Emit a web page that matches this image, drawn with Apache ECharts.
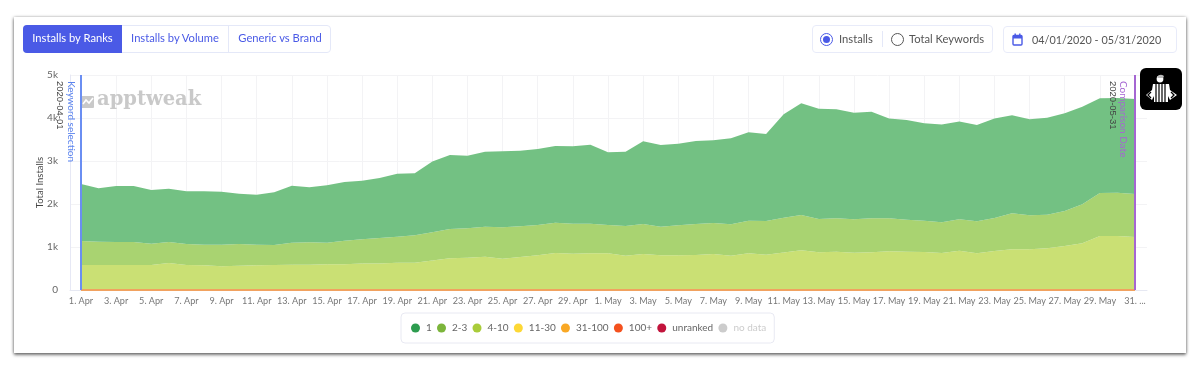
<!DOCTYPE html>
<html><head><meta charset="utf-8">
<script src="https://cdn.jsdelivr.net/npm/echarts@6/dist/echarts.min.js"></script>
<style>
html,body{margin:0;padding:0;background:#fff;width:1200px;height:373px;overflow:hidden;font-family:Lato,"Open Sans",sans-serif}
#wrap{position:relative;width:1200px;height:373px;filter:blur(.35px)}
#card{position:absolute;left:14px;top:17px;width:1172px;height:336px;background:#fff;box-shadow:0 2px 3px rgba(0,0,0,.5),1px 0 3px rgba(0,0,0,.18),-1px 0 3px rgba(0,0,0,.18)}
#chart{position:absolute;left:0;top:0;width:1200px;height:373px}
.ui{position:absolute;box-sizing:border-box;font-size:11.2px;line-height:26px;white-space:nowrap}
.tabs{left:23px;top:25px;width:308px;height:28px;border:1px solid #e4e8f8;border-radius:4px;color:#4a5ae6}
.tabs span{position:absolute;top:-1px;text-align:center;height:28px}
.tabs .on{left:-1px;width:99px;background:#4a5ae6;color:#fff;border-radius:4px 0 0 4px}
.sep{position:absolute;width:1px;background:#e4e8f8}
.box{border:1px solid #e8ebf9;border-radius:4px;color:#555}
.radio{position:absolute;width:11px;height:11px;border-radius:50%;border:1px solid #555;box-sizing:content-box}
#logo{position:absolute;left:1140px;top:68px;width:42px;height:42px;border-radius:6px;background:#000}
</style></head><body>
<div id="wrap">
<div id="card"></div>
<div id="chart"></div>
<div class="ui tabs"><span class="on">Installs by Ranks</span><span style="left:98px;width:106px">Installs by Volume</span><i class="sep" style="left:204px;top:0;height:26px"></i><span style="left:205px;width:102px">Generic vs Brand</span></div>
<div class="ui box" style="left:812px;top:25px;width:181px;height:28px">
  <i class="radio" style="left:7px;top:7px;border-color:#4a5ae6"></i><i style="position:absolute;left:10px;top:10px;width:7px;height:7px;border-radius:50%;background:#4a5ae6"></i>
  <span style="position:absolute;left:26px;top:0">Installs</span><i class="sep" style="left:69px;top:5px;height:16px"></i>
  <i class="radio" style="left:78px;top:7px"></i><span style="position:absolute;left:96px;top:0">Total Keywords</span></div>
<div class="ui box" style="left:1003px;top:26px;width:174px;height:27px;font-size:10.8px;line-height:25px">
  <svg style="position:absolute;left:8px;top:6px" width="11" height="13" viewBox="0 0 11 13"><rect x="1" y="2.5" width="9" height="9.5" rx="1" fill="none" stroke="#4a5ae6" stroke-width="1.4"/><rect x="1" y="2.5" width="9" height="3" fill="#4a5ae6"/><rect x="2.5" y="0.5" width="1.4" height="3" fill="#4a5ae6"/><rect x="7.1" y="0.5" width="1.4" height="3" fill="#4a5ae6"/></svg>
  <span style="position:absolute;left:28px;top:0">04/01/2020 - 05/31/2020</span></div>
<div id="logo"><svg width="42" height="42" viewBox="0 0 42 42">
  <circle cx="20" cy="11" r="3.4" fill="#fff"/><path d="M17 9 Q20 5 24 8 L23 10 L18 10Z" fill="#bbb"/>
  <path d="M13 16 L29 16 L30 22 L37 27 L30 32 L28 28 L28 34 L14 34 L14 28 L12 32 L6 27 L12 22Z" fill="#fff"/>
  <path d="M16 16V34M19 16V34M22 16V34M25 16V34" stroke="#000" stroke-width="1.2"/>
  <path d="M11 24 L8 27 L11 30M31 24 L34 27 L31 30" stroke="#000" stroke-width="1.3" fill="none"/></svg></div>
</div>
<script>
const categories = ["1. Apr","2. Apr","3. Apr","4. Apr","5. Apr","6. Apr","7. Apr","8. Apr","9. Apr","10. Apr","11. Apr","12. Apr","13. Apr","14. Apr","15. Apr","16. Apr","17. Apr","18. Apr","19. Apr","20. Apr","21. Apr","22. Apr","23. Apr","24. Apr","25. Apr","26. Apr","27. Apr","28. Apr","29. Apr","30. Apr","1. May","2. May","3. May","4. May","5. May","6. May","7. May","8. May","9. May","10. May","11. May","12. May","13. May","14. May","15. May","16. May","17. May","18. May","19. May","20. May","21. May","22. May","23. May","24. May","25. May","26. May","27. May","28. May","29. May","30. May","31. ..."];
const rank1 = [1325,1241,1303,1303,1248,1241,1225,1241,1233,1171,1164,1224,1326,1279,1333,1364,1365,1395,1465,1443,1641,1721,1691,1745,1767,1760,1768,1784,1799,1837,1690,1729,1923,1900,1900,1931,1923,2001,2054,2023,2408,2597,2567,2535,2482,2481,2319,2318,2263,2272,2273,2241,2311,2279,2232,2256,2271,2271,2202,2202,2210];
const rank2to3 = [559,543,535,535,497,488,489,480,504,504,480,466,512,520,505,552,559,591,606,636,660,682,682,698,729,713,705,706,698,690,659,690,700,666,697,720,720,728,760,783,805,822,775,775,774,791,768,744,729,714,728,744,768,837,791,783,815,907,1000,1008,1000];
const rank4to10 = [581,581,581,581,581,628,581,574,550,566,574,581,589,589,596,596,619,619,635,635,685,737,752,775,729,768,807,860,845,853,853,799,835,807,807,815,838,799,853,822,873,923,876,892,869,876,899,892,884,860,915,853,907,946,946,969,1023,1086,1256,1256,1233];
const rankOther = [0,0,0,0,0,0,0,0,0,0,0,0,0,0,0,0,0,0,0,0,0,0,0,0,0,0,0,0,0,0,0,0,0,0,0,0,0,0,0,0,0,0,0,0,0,0,0,0,0,0,0,0,0,0,0,0,0,0,0,0,0];
const legendNames = ["1","2-3","4-10","11-30","31-100","100+","unranked","no data"];
const legendColors = ["#2d9c4f","#7cb53b","#a9cc3a","#fdd835","#f9a825","#f4511e","#c2143c","#cccccc"];
const areaColors = ["#6dbe7e","#a5d16b","#c8df6e","#fdd835","#f9a825","#f4511e","#c2143c","#cccccc"];
const seriesValues = [rank1,rank2to3,rank4to10,rankOther,rankOther,rankOther,rankOther,rankOther];
const yTicks = {min:0,max:5000,interval:1000};
const markers = [{cat:"1. Apr",color:"#6a8ef2"},{cat:"31. ...",color:"#a566d2"}];

const chart = echarts.init(document.getElementById('chart'));
const font = 'Lato';
const series = [];
for (let i = legendNames.length-1; i >= 0; i--) {
  const s = {
    name: legendNames[i], type:'line', stack:'ranks', data: seriesValues[i],
    xAxisIndex:0, yAxisIndex:0, symbol:'none', smooth:false,
    itemStyle:{color:legendColors[i]},
    lineStyle:{width:0},
    areaStyle:{color:areaColors[i],opacity:.96}
  };
  if (legendNames[i]==="31-100") s.lineStyle={width:2,color:'#f1a260',opacity:1};
  if (i===0) {
    s.markLine = {silent:true,symbol:'none',label:{show:false},animation:false,
      data: markers.map(m=>({xAxis:m.cat,lineStyle:{color:m.color,width:2,type:'solid'}}))};
  }
  series.push(s);
}
const vtext = (x,y,text,fill,f)=>({type:'text',x,y,rotation:-Math.PI/2,z:10,
  style:{text,fill,font:f,textVerticalAlign:'bottom'}});
chart.setOption({
  animation:false,
  grid:[
    {left:81,right:65,top:75,height:215},
    {left:70,right:53,top:75,height:215}
  ],
  xAxis:[
    {type:'category',gridIndex:0,data:categories,boundaryGap:false,
      axisLine:{show:false},axisTick:{show:false},
      axisLabel:{interval:1,color:'#777',fontFamily:font,fontSize:9.1,margin:7,hideOverlap:false,showMaxLabel:true},
      splitLine:{show:true,interval:1,lineStyle:{color:'#f3f3f5',width:1}}},
    {type:'value',gridIndex:1,min:0,max:1,show:true,
      axisLine:{show:true,lineStyle:{color:'#e6e8f2'}},axisTick:{show:false},axisLabel:{show:false},splitLine:{show:false}}
  ],
  yAxis:[
    {type:'value',gridIndex:0,min:yTicks.min,max:yTicks.max,interval:yTicks.interval,show:false},
    {type:'value',gridIndex:1,min:yTicks.min,max:yTicks.max,interval:yTicks.interval,
      name:'Total Installs',nameLocation:'middle',nameGap:25,nameMoveOverlap:false,
      nameTextStyle:{color:'#444',fontFamily:font,fontSize:9.5},
      axisLine:{show:true,lineStyle:{color:'#e6e8f5'}},axisTick:{show:false},
      axisLabel:{color:'#666',fontFamily:font,fontSize:10,margin:12,padding:[3,0,0,0],formatter:v=>v===0?'0':(v/1000)+'k'},
      splitLine:{show:true,lineStyle:{color:'#f3f3f5'}}}
  ],
  legend:{
    left:401,top:313,padding:[10,8,10,10],itemGap:5.2,itemWidth:9,itemHeight:9,icon:'circle',
    backgroundColor:'#fff',borderColor:'#e8e9f2',borderWidth:1,borderRadius:4,selectedMode:false,
    textStyle:{color:'#666',fontFamily:font,fontSize:10,padding:[0,0,0,1]},
    data:legendNames.map((n,i)=>({name:n,itemStyle:{color:legendColors[i]},textStyle:n==='no data'?{color:'#ccc'}:undefined}))
  },
  graphic:[
    vtext(66,81,'Keyword selection','#5b84ee','10px Lato'),
    vtext(55,81,'2020-04-01','#444','9.5px "Liberation Sans"'),
    vtext(1118,81,'Comparison Date','#a566d2','10px Lato'),
    vtext(1108,81,'2020-05-31','#444','9.5px "Liberation Sans"'),
    {type:'text',x:97,y:90,z:1,style:{text:'apptweak',fill:'#c9c9c9',font:'bold 19.5px "DejaVu Serif"'}},
    {type:'rect',z:1,shape:{x:81,y:96,width:13,height:12,r:1},style:{fill:'#c9c9c9'}},
    {type:'polyline',z:1,shape:{points:[[83,104],[86,100],[89,103],[93,98]]},style:{stroke:'#fff',lineWidth:1.6,fill:'none'}}
  ],
  series
});
</script>
</body></html>
